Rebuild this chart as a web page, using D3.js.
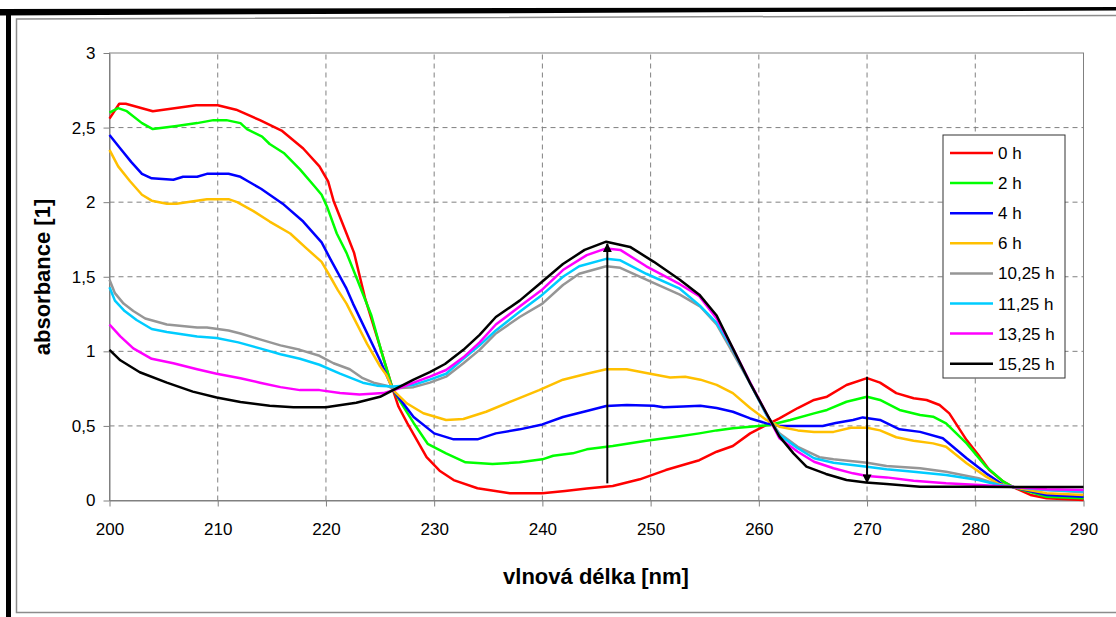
<!DOCTYPE html>
<html>
<head>
<meta charset="utf-8">
<script src="https://cdn.jsdelivr.net/npm/d3@7"></script>
<style>
  body { margin: 0; background: #fff; }
  text { font-family: "Liberation Sans", Arial, sans-serif; }
</style>
</head>
<body>
<script>
// absorbance spectra, [wavelength nm, absorbance]
var h0 = [[200,2.56],[200.9,2.66],[201.5,2.66],[204,2.61],[205,2.62],[208,2.65],[210,2.65],[211.7,2.62],[213.9,2.55],[215.9,2.48],[217.9,2.36],[219.4,2.24],[220.2,2.14],[220.7,2.01],[221.9,1.79],[222.6,1.66],[223.6,1.36],[225,1.03],[226.2,0.74],[226.7,0.63],[227.5,0.52],[229.3,0.29],[230.5,0.2],[231.8,0.137],[234,0.082],[237,0.048],[240,0.048],[242.1,0.064],[244.1,0.08],[246.5,0.097],[249,0.142],[251.4,0.204],[253.3,0.245],[254.5,0.27],[256.1,0.327],[257.6,0.365],[259.2,0.45],[260.4,0.495],[261.9,0.55],[263.6,0.62],[265.1,0.674],[266.3,0.696],[268.1,0.774],[270,0.82],[271.2,0.79],[272.7,0.72],[274.3,0.685],[275.5,0.674],[276.7,0.64],[277.6,0.584],[279.2,0.405],[280.4,0.294],[281.3,0.204],[282.6,0.126],[283.5,0.09],[285.1,0.037],[286.6,0.015],[290,0.003]];
var h2 = [[200,2.60],[200.8,2.63],[201.6,2.61],[203,2.53],[204,2.49],[206.2,2.51],[208.1,2.53],[209.6,2.55],[210.8,2.55],[212.1,2.53],[212.7,2.49],[214.1,2.44],[214.8,2.39],[216.1,2.33],[217.6,2.22],[218.9,2.11],[219.6,2.05],[220.1,1.97],[221,1.79],[221.9,1.66],[222.9,1.48],[224.2,1.24],[225.2,0.98],[226.2,0.74],[228.1,0.52],[229.4,0.38],[231.1,0.316],[232.9,0.256],[235.4,0.245],[237.9,0.256],[240,0.276],[241,0.30],[242.8,0.316],[244.1,0.343],[246.5,0.365],[249.6,0.40],[252.7,0.43],[254.5,0.45],[256.1,0.47],[257.6,0.484],[259.2,0.495],[261,0.506],[262.9,0.54],[265.1,0.584],[266.3,0.607],[268.1,0.662],[270,0.696],[271.2,0.674],[273,0.607],[274.9,0.573],[276.1,0.562],[277.3,0.517],[279.2,0.383],[281,0.227],[282.6,0.126],[283.5,0.09],[286.6,0.025],[290,0.015]];
var h4 = [[200,2.45],[201,2.36],[202,2.27],[203,2.19],[203.9,2.16],[205.9,2.15],[206.8,2.17],[208.1,2.17],[209,2.19],[211,2.19],[212.1,2.17],[212.8,2.14],[214,2.09],[214.8,2.05],[216,1.99],[217.9,1.87],[219.6,1.73],[220.4,1.62],[221.9,1.42],[222.5,1.32],[225,0.94],[226.2,0.74],[228.1,0.56],[230,0.45],[231.8,0.41],[234,0.41],[235.7,0.45],[237.9,0.477],[240,0.51],[241.9,0.56],[244.1,0.60],[245.9,0.633],[247.8,0.64],[250.3,0.635],[251.2,0.625],[253,0.63],[254.6,0.635],[256.1,0.62],[257.6,0.595],[259.2,0.55],[260.7,0.517],[261.9,0.50],[265.9,0.50],[267.1,0.52],[268.7,0.54],[269.6,0.557],[271.2,0.54],[273,0.477],[274.9,0.46],[277,0.417],[279.2,0.283],[281,0.182],[282.6,0.104],[283.5,0.09],[286.6,0.037],[290,0.025]];
var h6 = [[200,2.35],[200.8,2.24],[201.9,2.14],[203,2.05],[203.9,2.01],[205.3,1.99],[206.2,1.99],[209,2.02],[211,2.02],[211.8,2.00],[213.3,1.94],[214.8,1.87],[216.7,1.79],[218.2,1.69],[219.6,1.60],[220.4,1.50],[221.1,1.41],[221.9,1.32],[223.8,1.05],[225,0.90],[225.6,0.84],[226.2,0.74],[227.5,0.65],[229,0.585],[231.1,0.54],[232.7,0.546],[234.8,0.595],[237.3,0.67],[239.7,0.74],[241.9,0.81],[244.1,0.85],[245.9,0.88],[247.8,0.88],[249.6,0.855],[251.8,0.825],[253.2,0.83],[254.6,0.81],[256.1,0.775],[257.6,0.72],[259.2,0.62],[260.7,0.54],[261.9,0.495],[263.6,0.47],[265.1,0.46],[266.9,0.46],[268.5,0.488],[270,0.488],[271.2,0.47],[272.7,0.424],[274.3,0.40],[276.1,0.383],[277.3,0.36],[279.2,0.25],[281,0.16],[282.2,0.11],[283.5,0.09],[286.6,0.048],[290,0.037]];
var h10 = [[200,1.48],[200.5,1.39],[201.3,1.32],[202.2,1.27],[203.3,1.22],[205.3,1.18],[208.1,1.16],[209,1.16],[211,1.14],[212.1,1.12],[213.9,1.08],[215.8,1.04],[217.6,1.01],[219.4,0.97],[220.7,0.92],[222.2,0.88],[223.4,0.82],[224.4,0.79],[225.6,0.77],[226.2,0.75],[228.1,0.76],[229.6,0.79],[231.1,0.83],[232.7,0.92],[234.2,1.01],[235.7,1.12],[237.9,1.23],[240,1.32],[241.9,1.445],[243.4,1.52],[245.9,1.57],[247.2,1.56],[249.6,1.48],[252.7,1.38],[254.6,1.30],[256.1,1.18],[257.6,0.99],[259.2,0.785],[260.7,0.575],[261.9,0.45],[263.6,0.36],[265.6,0.29],[266.9,0.276],[270,0.253],[271.8,0.231],[274.9,0.216],[277.3,0.193],[280.3,0.149],[282.2,0.104],[283.5,0.09],[286.6,0.07],[290,0.055]];
var h11 = [[200,1.43],[200.5,1.34],[201.4,1.27],[202.5,1.21],[203.9,1.15],[205.3,1.13],[208.1,1.10],[209.9,1.09],[211.9,1.06],[213.9,1.02],[215.8,0.98],[217.6,0.95],[219.4,0.91],[221.3,0.85],[223.4,0.79],[224.7,0.77],[226.2,0.765],[228.1,0.775],[229.6,0.81],[231.1,0.85],[232.7,0.95],[234.2,1.04],[235.7,1.14],[237.9,1.265],[240,1.38],[241.9,1.50],[243.4,1.57],[245.9,1.62],[247.2,1.61],[249.6,1.52],[252.7,1.42],[254.5,1.31],[256.1,1.19],[257.6,1.01],[259.2,0.785],[260.7,0.575],[261.9,0.44],[263.6,0.35],[265.1,0.283],[266.9,0.253],[270,0.227],[271.8,0.209],[274.3,0.193],[277.3,0.171],[280.3,0.137],[282.2,0.104],[283.5,0.09],[286.6,0.07],[290,0.06]];
var h13 = [[200,1.18],[201,1.10],[202.2,1.02],[203.9,0.95],[205.9,0.92],[208.1,0.88],[209.9,0.85],[212.1,0.82],[213.9,0.79],[215.8,0.76],[217.6,0.74],[219.4,0.74],[221.3,0.72],[223.1,0.71],[225.3,0.72],[226.5,0.745],[228.1,0.79],[229.6,0.83],[231.1,0.875],[232.7,0.96],[234.2,1.06],[235.7,1.18],[237.9,1.30],[240,1.415],[241.9,1.545],[244.1,1.645],[245.9,1.69],[247.2,1.68],[249.6,1.57],[252.7,1.45],[254.5,1.37],[256.1,1.22],[257.6,1.02],[259.2,0.79],[260.7,0.585],[261.9,0.417],[263.6,0.327],[265.1,0.26],[266.9,0.216],[268.7,0.182],[270,0.164],[271.8,0.155],[274.3,0.133],[277.3,0.115],[280.4,0.104],[283.5,0.09],[286.6,0.075],[290,0.07]];
var h15 = [[200,1.01],[201,0.94],[202.8,0.86],[205.3,0.79],[207.7,0.73],[209.9,0.69],[212.1,0.66],[214.8,0.635],[217,0.625],[220,0.625],[222.8,0.655],[225,0.695],[226.2,0.74],[228.1,0.81],[229.6,0.86],[231,0.915],[232.7,1.01],[234.2,1.11],[235.7,1.23],[237.9,1.34],[239.7,1.45],[241.9,1.585],[243.9,1.68],[245.9,1.735],[248.1,1.70],[250.3,1.60],[252.7,1.48],[254.5,1.38],[256.1,1.24],[257.6,1.02],[259.2,0.785],[260.7,0.585],[261.9,0.43],[263.2,0.316],[264.4,0.227],[266.2,0.178],[268.1,0.137],[269.9,0.12],[271.8,0.11],[274.9,0.092],[280.4,0.092],[283.5,0.09],[290,0.09]];

var seriesNames = ["0 h", "2 h", "4 h", "6 h", "10,25 h", "11,25 h", "13,25 h", "15,25 h"];
var seriesData = [h0, h2, h4, h6, h10, h11, h13, h15];
var seriesColors = ["#ff0000", "#00ff00", "#0000ff", "#ffc000", "#969696", "#00ccff", "#ff00ff", "#000000"];

var xTicks = [200, 210, 220, 230, 240, 250, 260, 270, 280, 290];
var yTicks = [0, 0.5, 1, 1.5, 2, 2.5, 3];

// arrows: [wavelength, from, to]
var arrows = [[246, 0.115, 1.72], [270, 0.83, 0.12]];

var W = 1116, H = 617;
var svg = d3.select("body").append("svg")
    .attr("width", W)
    .attr("height", H);

svg.append("rect").attr("width", W).attr("height", H).attr("fill", "#fff");

// outer frame (cropped chart border)
svg.append("polygon")
    .attr("points", "0,9 1116,7 1116,10.5 0,15.5")
    .attr("fill", "#000");
svg.append("rect").attr("x", 6).attr("y", 9).attr("width", 5).attr("height", H - 9).attr("fill", "#000");
svg.append("path")
    .attr("d", "M1116,15.5 L16.5,19 L16.5,612.5 L1116,612.5")
    .attr("fill", "none")
    .attr("stroke", "#8c8c8c")
    .attr("stroke-width", 1.5);

var x = d3.scaleLinear().domain([200, 290]).range([109.5, 1083.5]);
var y = d3.scaleLinear().domain([0, 3]).range([500.5, 53]);

var cz = d3.formatLocale({decimal: ",", thousands: " ", grouping: [3], currency: ["", ""]});
var fmt = cz.format("~g");

// grid
svg.append("g").selectAll("line").data(yTicks.slice(1, -1)).enter().append("line")
    .attr("x1", x(200)).attr("x2", x(290))
    .attr("y1", function(d){ return y(d); }).attr("y2", function(d){ return y(d); })
    .attr("stroke", "#808080").attr("stroke-dasharray", "5,4");
svg.append("g").selectAll("line").data(xTicks.slice(1, -1)).enter().append("line")
    .attr("y1", y(0)).attr("y2", y(3))
    .attr("x1", function(d){ return x(d); }).attr("x2", function(d){ return x(d); })
    .attr("stroke", "#808080").attr("stroke-dasharray", "5,4");

svg.append("rect")
    .attr("x", x(200)).attr("y", y(3))
    .attr("width", x(290) - x(200)).attr("height", y(0) - y(3))
    .attr("fill", "none").attr("stroke", "#808080");

var xAxis = svg.append("g")
    .attr("transform", "translate(0," + y(0) + ")")
    .call(d3.axisBottom(x).tickValues(xTicks).tickSize(6).tickSizeOuter(0).tickPadding(16));
var yAxis = svg.append("g")
    .attr("transform", "translate(" + x(200) + ",0)")
    .call(d3.axisLeft(y).tickValues(yTicks).tickFormat(fmt).tickSize(6).tickSizeOuter(0).tickPadding(8));
[xAxis, yAxis].forEach(function(a){
    a.select(".domain").attr("stroke", "#808080");
    a.selectAll(".tick line").attr("stroke", "#808080");
    a.selectAll("text").attr("font-size", 17).attr("fill", "#000")
        .style("font-family", "'Liberation Sans', Arial, sans-serif");
});

// curves
var line = d3.line()
    .x(function(d){ return x(d[0]); })
    .y(function(d){ return y(d[1]); });

svg.append("g").selectAll("path").data(seriesData).enter().append("path")
    .attr("d", line)
    .attr("fill", "none")
    .attr("stroke", function(d, i){ return seriesColors[i]; })
    .attr("stroke-width", 2.5)
    .attr("stroke-linejoin", "round");

// arrows
svg.append("defs").append("marker")
    .attr("id", "head")
    .attr("viewBox", "0 0 10 10")
    .attr("refX", 9).attr("refY", 5)
    .attr("markerWidth", 5).attr("markerHeight", 4.5)
    .attr("orient", "auto")
  .append("path").attr("d", "M0,0 L10,5 L0,10 z").attr("fill", "#000");

svg.append("g").selectAll("line").data(arrows).enter().append("line")
    .attr("x1", function(d){ return x(d[0]); }).attr("x2", function(d){ return x(d[0]); })
    .attr("y1", function(d){ return y(d[1]); }).attr("y2", function(d){ return y(d[2]); })
    .attr("stroke", "#000").attr("stroke-width", 2)
    .attr("marker-end", "url(#head)");

// legend
var lg = svg.append("g").attr("transform", "translate(943,135)");
lg.append("rect").attr("width", 122).attr("height", 243)
    .attr("fill", "#fff").attr("stroke", "#333");
var item = lg.selectAll("g").data(seriesNames).enter().append("g")
    .attr("transform", function(d, i){ return "translate(0," + (18 + i * 30.1) + ")"; });
item.append("line").attr("x1", 7).attr("x2", 50)
    .attr("stroke", function(d, i){ return seriesColors[i]; })
    .attr("stroke-width", 2.5);
item.append("text").attr("x", 55).attr("y", 6)
    .attr("font-size", 17).text(function(d){ return d; });

// axis titles
svg.append("text")
    .attr("x", 596).attr("y", 584)
    .attr("text-anchor", "middle")
    .attr("font-size", 22).attr("font-weight", "bold")
    .text("vlnová délka [nm]");
svg.append("text")
    .attr("transform", "translate(50,277) rotate(-90)")
    .attr("text-anchor", "middle")
    .attr("font-size", 22).attr("font-weight", "bold")
    .text("absorbance [1]");
</script>
</body>
</html>
